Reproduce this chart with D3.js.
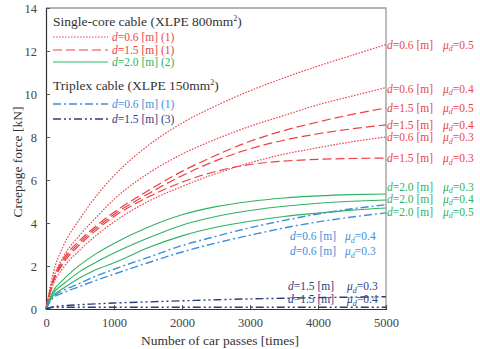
<!DOCTYPE html>
<html><head><meta charset="utf-8">
<script src="https://cdn.jsdelivr.net/npm/d3@7"></script>
<style>
body{margin:0;background:#fff}
svg{display:block}
svg text{font-family:"Liberation Serif","DejaVu Serif","Times New Roman",Times,serif !important}
</style>
</head><body>
<svg id="c" width="480" height="349" font-family="Liberation Serif, DejaVu Serif, serif"></svg>
<script>
// ---------- data ----------
const passes = [0,100,250,500,750,1000,1500,2000,2500,3000,3500,4000,4500,5000];
const single06_mu05 = [0,1.6,2.9,4.2,5.3,6.2,7.6,8.65,9.45,10.15,10.75,11.3,11.8,12.3];
const single06_mu04 = [0,1.35,2.4,3.45,4.3,5.1,6.3,7.2,7.9,8.5,9.0,9.5,9.9,10.3];
const single06_mu03 = [0,1.1,1.9,2.75,3.45,4.05,5.0,5.7,6.3,6.8,7.2,7.5,7.78,8.0];
const single15_mu05 = [0,1.3,2.3,3.2,3.9,4.5,5.5,6.4,7.15,7.8,8.3,8.7,9.05,9.35];
const single15_mu04 = [0,1.25,2.2,3.1,3.8,4.4,5.35,6.2,6.9,7.45,7.85,8.15,8.38,8.56];
const single15_mu03 = [0,1.2,2.1,3.0,3.7,4.3,5.2,5.9,6.4,6.72,6.88,6.96,7.0,7.02];
const single20_mu03 = [0,0.8,1.35,2.05,2.6,3.05,3.8,4.38,4.76,5.0,5.16,5.26,5.32,5.35];
const single20_mu04 = [0,0.7,1.15,1.75,2.2,2.6,3.3,3.9,4.3,4.58,4.78,4.92,5.01,5.07];
const single20_mu05 = [0,0.6,0.95,1.45,1.85,2.15,2.85,3.4,3.8,4.08,4.3,4.46,4.6,4.70];
const triplex06_mu04 = [0,0.55,0.85,1.2,1.55,1.85,2.4,2.95,3.38,3.78,4.12,4.42,4.66,4.85];
const triplex06_mu03 = [0,0.5,0.75,1.05,1.35,1.62,2.15,2.65,3.07,3.43,3.77,4.05,4.28,4.47];
const triplex15_mu03 = [0,0.1,0.15,0.2,0.24,0.28,0.33,0.38,0.43,0.47,0.5,0.53,0.55,0.57];
const triplex15_mu04 = [0,0.08,0.08,0.08,0.08,0.08,0.08,0.08,0.08,0.08,0.08,0.08,0.08,0.08];

const xTicks = [0,1000,2000,3000,4000,5000];
const yTicks = [0,2,4,6,8,10,12,14];

const seriesD  = ["0.6","0.6","0.6","1.5","1.5","1.5","2.0","2.0","2.0","0.6","0.6","1.5","1.5"];
const seriesMu = ["0.5","0.4","0.3","0.5","0.4","0.3","0.3","0.4","0.5","0.4","0.3","0.3","0.4"];
const seriesValues = [single06_mu05,single06_mu04,single06_mu03,single15_mu05,single15_mu04,single15_mu03,
  single20_mu03,single20_mu04,single20_mu05,triplex06_mu04,triplex06_mu03,triplex15_mu03,triplex15_mu04];
const seriesGroup = ["s06","s06","s06","s15","s15","s15","s20","s20","s20","t06","t06","t15","t15"];

const legendGroups = ["s06","s15","s20","t06","t15"];
const legendD = ["0.6","1.5","2.0","0.6","1.5"];
const legendNote = ["(1)","(1)","(2)","(1)","(3)"];

// ---------- styles ----------
const FONT = "Liberation Serif, DejaVu Serif, serif";
const style = {
  s06:{color:"#e8474f", dash:"1.6,1.4", w:1.2},
  s15:{color:"#ef3e42", dash:"9,4", w:1.2},
  s20:{color:"#2db35e", dash:null, w:1.1},
  t06:{color:"#3d8fda", dash:"8,3,2,3", w:1.4},
  t15:{color:"#2e3d7c", dash:"8,3,2,3,2,3", w:1.4}
};

const svg = d3.select("#c");
const x = d3.scaleLinear().domain([0,5000]).range([46,386]);
const y = d3.scaleLinear().domain([0,14]).range([309,8]);

// frame (top/right grey)
svg.append("path").attr("d",`M${x(0)},${y(14)}H${x(5000)}V${y(0)}`)
  .attr("fill","none").attr("stroke","#9a9a9a").attr("stroke-width",1.3);

// axes
const ax = svg.append("g").attr("transform",`translate(${x(0)},0)`)
  .call(d3.axisLeft(y).tickValues(yTicks).tickSize(-4).tickPadding(9).tickFormat(d3.format("d")));
const bx = svg.append("g").attr("transform",`translate(0,${y(0)})`)
  .call(d3.axisBottom(x).tickValues(xTicks).tickSize(-4).tickPadding(9).tickFormat(d3.format("d")));
[ax,bx].forEach(g=>{
  g.attr("font-family",FONT);
  g.select(".domain").attr("stroke","#333").attr("stroke-width",1.2);
  g.selectAll(".tick line").attr("stroke","#555");
  g.selectAll("text").attr("font-size",12.5).attr("fill","#444").attr("font-family",FONT);
});

// lines
const line = d3.line().x((d,i)=>x(passes[i])).y(d=>y(d)).curve(d3.curveMonotoneX);
seriesValues.forEach((vals,k)=>{
  const st = style[seriesGroup[k]];
  svg.append("path").attr("d",line(vals)).attr("fill","none")
    .attr("stroke",st.color).attr("stroke-width",st.w)
    .attr("stroke-dasharray",st.dash);
});

// label helpers
function dLabel(sel, xp, yp, dval, color, size){
  const t = sel.append("text").attr("x",xp).attr("y",yp).attr("font-size",size).attr("fill",color).attr("font-family",FONT);
  t.append("tspan").attr("font-style","italic").text("d");
  t.append("tspan").text("=" + dval + " [m]");
  return t;
}
function muLabel(sel, xp, yp, mu, color, size){
  const t = sel.append("text").attr("x",xp).attr("y",yp).attr("font-size",size).attr("fill",color).attr("font-family",FONT);
  t.append("tspan").attr("font-style","italic").text("μ");
  t.append("tspan").attr("font-style","italic").attr("font-size",size*0.7).attr("dy",2.5).text("d");
  t.append("tspan").attr("dy",-2.5).text("=" + mu);
  return t;
}

// right-side labels for single-core series (k 0..8)
const labelShift = [0,1,0,0,0,0,-7,-1,4];
for(let k=0;k<9;k++){
  const vals = seriesValues[k];
  const yp = y(vals[vals.length-1]) + labelShift[k] + 4;
  const c = style[seriesGroup[k]].color;
  dLabel(svg, 387, yp, seriesD[k], c, 11.5);
  muLabel(svg, 443, yp, seriesMu[k], c, 11.5);
}
// inside labels for triplex
const innerPos = [[290,345,240],[290,345,255],[288,347,290],[288,347,303]];
for(let k=9;k<13;k++){
  const p = innerPos[k-9];
  const c = style[seriesGroup[k]].color;
  dLabel(svg, p[0], p[2], seriesD[k], c, 11.5);
  muLabel(svg, p[1], p[2], seriesMu[k], c, 11.5);
}

// legend
function header(yp, main, num){
  const t = svg.append("text").attr("x",53).attr("y",yp).attr("font-size",13.5).attr("fill","#333").attr("font-family",FONT);
  t.append("tspan").text(main + "  (XLPE " + num + "mm");
  t.append("tspan").attr("font-size",8).attr("dy",-5).text("2");
  t.append("tspan").attr("dy",5).text(")");
}
header(26,"Single-core cable","800");
header(90,"Triplex cable","150");
const legY = [37,50,62,104,119];
legendGroups.forEach((g,i)=>{
  const st = style[g];
  svg.append("line").attr("x1",53).attr("x2",108).attr("y1",legY[i]).attr("y2",legY[i])
    .attr("stroke",st.color).attr("stroke-width",st.w).attr("stroke-dasharray",st.dash);
  const t = dLabel(svg, 112, legY[i]+4, legendD[i], st.color, 11.5);
  t.append("tspan").text(" " + legendNote[i]);
});

// axis titles
svg.append("text").attr("transform","translate(22,162) rotate(-90)").attr("font-family",FONT)
  .attr("text-anchor","middle").attr("font-size",13.5).attr("fill","#333").text("Creepage force [kN]");
svg.append("text").attr("x",220).attr("y",345).attr("text-anchor","middle").attr("font-family",FONT)
  .attr("font-size",13.5).attr("fill","#333").text("Number of car passes  [times]");
</script>
</body></html>
